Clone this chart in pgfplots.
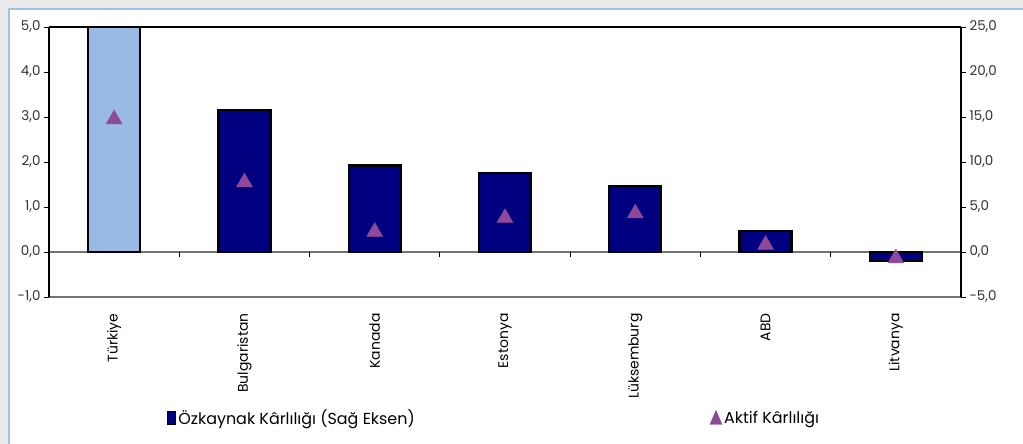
\documentclass[border=0pt]{standalone}
\usepackage{fontspec}
\setmainfont{Poppins}
\usepackage{pgfplots}
\pgfplotsset{compat=1.18}

\definecolor{panelblue}{HTML}{9DC3E6}
\definecolor{bggray}{HTML}{EBEBEB}
\definecolor{lightbar}{HTML}{99BBE3}
\definecolor{navybar}{HTML}{000080}
\definecolor{roapurple}{HTML}{8E4A98}
\definecolor{ticktext}{HTML}{333333}

% legend texts kept unexpandable
\protected\def\roename{Özkaynak Kârlılığı (Sağ Eksen)}
\protected\def\roaname{Aktif Kârlılığı}
\protected\def\trname{Türkiye}
\protected\def\luname{Lüksemburg}

% Özkaynak kârlılığı (sağ eksen), %
\pgfplotstableread{
x  roe
1  25.0
}\roefirst
\pgfplotstableread{
x  roe
2  15.8
3  9.6
4  8.8
5  7.3
6  2.3
7  -1.0
}\roerest
% Aktif kârlılığı (sol eksen), %
\pgfplotstableread{
x  roa
1  2.95
2  1.55
3  0.45
4  0.76
5  0.86
6  0.16
7  -0.14
}\roatable

\pgfplotsset{
  chartbase/.style={
    at={(49bp,147bp)}, anchor=south west,
    width=912bp, height=270bp, scale only axis,
    xmin=0.5, xmax=7.5,
    axis line style={draw=none},
    tick align=outside,
    major tick length=5bp,
    tick style={black, line width=0.8bp},
    every tick label/.append style={font=\fontsize{13.5}{15}\selectfont, text=ticktext},
    yticklabel style={/pgf/number format/.cd, fixed, fixed zerofill, precision=1,
      use comma, assume math mode=true},
    clip=false,
  },
}

\begin{document}
\begin{tikzpicture}
\useasboundingbox (0bp,0bp) rectangle (1023bp,444bp);
\fill[bggray] (0bp,0bp) rectangle (1023bp,444bp);
\fill[white] (9bp,0bp) rectangle (1023bp,435bp);
\draw[panelblue, line width=2bp] (9bp,0bp) -- (9bp,435bp) -- (1023bp,435bp);

% bars on the right-hand scale
\begin{axis}[chartbase,
  ymin=-5, ymax=25, ytick={-5,0,...,25},
  ytick pos=right, yticklabel pos=right,
  xtick={1,...,7},
  xticklabels={\trname,Bulgaristan,Kanada,Estonya,\luname,ABD,Litvanya},
  x tick style={draw=none},
  xticklabel style={rotate=90, anchor=east, font=\fontsize{14}{16}\selectfont, text=black, xshift=-8bp},
]
\draw[black!55, line width=1.2bp] (axis cs:0.5,0) -- (axis cs:7.5,0);
\pgfplotsinvokeforeach{1.5,2.5,3.5,4.5,5.5,6.5}{
  \draw[black, line width=0.8bp] (axis cs:#1,0) -- ++(0pt,-5pt);
}
\addplot[ybar, bar width=52bp, bar shift=0pt, fill=lightbar, draw=black, line width=2.4bp] table[x=x,y=roe] {\roefirst};
\addplot[ybar, bar width=52bp, bar shift=0pt, fill=navybar, draw=black, line width=2.4bp] table[x=x,y=roe] {\roerest};
\draw[black, line width=1.2bp] (rel axis cs:0,1) -- (rel axis cs:1,1);
\draw[black!55, line width=1.2bp] (rel axis cs:0,0) -- (rel axis cs:1,0);
\draw[black, line width=1.2bp] (rel axis cs:0,0) -- (rel axis cs:0,1);
\draw[black, line width=1.2bp] (rel axis cs:1,0) -- (rel axis cs:1,1);
\end{axis}

% triangles on the left-hand scale
\begin{axis}[chartbase,
  ymin=-1, ymax=5, ytick={-1,0,...,5},
  ytick pos=left, yticklabel pos=left,
  xtick=\empty,
  legend columns=2,
  legend style={at={(0.126,-0.448)}, anchor=west, draw=none, fill=none,
    font=\fontsize{16}{18}\selectfont,
    /tikz/every even column/.append style={column sep=293bp},
    /tikz/every odd column/.append style={column sep=0bp},
  },
]
\addlegendimage{legend image code/.code={\draw[fill=navybar, draw=black, line width=1.2bp] (0bp,-6.5bp) rectangle (8bp,6.5bp);}}
\addlegendentry{\roename}
\addplot[only marks, mark=triangle*, mark size=9.2bp, color=roapurple,
  legend image code/.code={\fill[roapurple] (0bp,-6.5bp) -- (12bp,-6.5bp) -- (6bp,7.5bp) -- cycle;}]
  table[x=x,y=roa] {\roatable};
\addlegendentry{\roaname}
\end{axis}
\end{tikzpicture}
\end{document}
